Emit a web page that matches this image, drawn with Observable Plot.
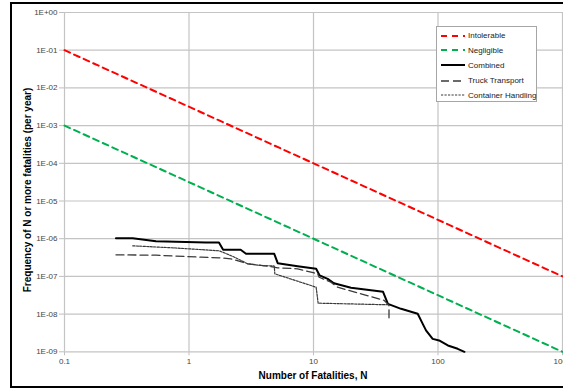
<!DOCTYPE html>
<html><head><meta charset="utf-8">
<script src="https://cdn.jsdelivr.net/npm/d3@7"></script>
<script src="https://cdn.jsdelivr.net/npm/@observablehq/plot@0.6"></script>
<style>
body{margin:0;background:#fff;}
#wrap{position:relative;width:563px;height:389px;overflow:hidden;background:#fff;font-family:"Liberation Sans Narrow","Liberation Sans",Arial,sans-serif;}
#chart{position:absolute;left:0;top:0;}
#border{position:absolute;left:10px;top:2px;width:620px;height:386px;box-sizing:border-box;border:2px solid #000;pointer-events:none;}
#ytitle{position:absolute;left:27px;top:190px;transform:translate(-50%,-50%) rotate(-90deg);white-space:nowrap;font-weight:bold;font-size:10px;color:#000;}
#xtitle{position:absolute;left:313px;top:375px;transform:translate(-50%,-50%);font-weight:bold;font-size:10px;white-space:nowrap;color:#000;}
#legend{position:absolute;left:436px;top:26px;width:101px;height:76px;box-sizing:border-box;border:1px solid #a6a6a6;background:#fff;font-size:8px;color:#222;}
.row{position:absolute;left:3px;height:10px;display:flex;align-items:center;white-space:nowrap;}
.row svg{margin-right:2px;}
#chart [aria-label^="y-axis"] line, #chart [aria-label^="y-axis"] path,
#chart [aria-label^="x-axis"] line, #chart [aria-label^="x-axis"] path{stroke:#bfbfbf;}
</style>
</head><body>
<div id="wrap">
  <div id="chart"></div>
  <div id="ytitle">Frequency of N or more fatalities (per year)</div>
  <div id="xtitle">Number of Fatalities, N</div>
  <div id="legend"></div>
  <div id="border"></div>
</div>
<script>
// Criteria lines (endpoints)
const intolerableN = [0.1, 1000];
const intolerableF = [1e-1, 1e-7];
const negligibleN = [0.1, 1000];
const negligibleF = [1e-3, 1e-9];

// Combined
const combinedN = [0.259, 0.353, 0.543, 1.37, 1.74, 1.88, 2.6, 2.87, 4.84, 5.16, 7.46, 10.5, 11.2, 13.0, 14.6, 20.0, 36.2, 39.6, 50.5, 68.7, 75.4, 80.1, 90.6, 102, 120, 144, 163];
const combinedF = [1.03e-6, 1.03e-6, 8.6e-7, 7.9e-7, 7.9e-7, 5.08e-7, 5.08e-7, 3.98e-7, 3.98e-7, 2.24e-7, 1.87e-7, 1.59e-7, 1.06e-7, 8.6e-8, 6.6e-8, 5.0e-8, 3.9e-8, 1.87e-8, 1.38e-8, 1.02e-8, 5.5e-9, 3.7e-9, 2.2e-9, 2.0e-9, 1.47e-9, 1.2e-9, 1.0e-9];

// Truck Transport
const truckN = [0.259, 0.543, 1.25, 1.81, 2.17, 2.96, 4.29, 5.16, 7.46, 10.8, 11.1, 13.8, 15.6, 24.1, 37.0, 39.4, 40.4, 40.4];
const truckF = [3.74e-7, 3.65e-7, 3.23e-7, 3.11e-7, 2.93e-7, 2.16e-7, 1.87e-7, 1.69e-7, 1.59e-7, 1.17e-7, 9.5e-8, 7.0e-8, 5.17e-8, 3.45e-8, 2.3e-8, 1.87e-8, 1.69e-8, 7.5e-9];

// Container Handling
const containerN = [0.353, 0.787, 1.75, 2.26, 2.96, 3.78, 4.84, 4.89, 10.5, 10.9, 39.4];
const containerF = [6.48e-7, 5.66e-7, 4.78e-7, 3.37e-7, 2.16e-7, 1.95e-7, 1.89e-7, 1.17e-7, 5.17e-8, 1.95e-8, 1.77e-8];

// Ticks
const xTicks = [0.1, 1, 10, 100, 1000];
const xTickLabels = ["0.1", "1", "10", "100", "1000"];
const yTicks = [1, 1e-1, 1e-2, 1e-3, 1e-4, 1e-5, 1e-6, 1e-7, 1e-8, 1e-9];
const yTickLabels = ["1E+00", "1E-01", "1E-02", "1E-03", "1E-04", "1E-05", "1E-06", "1E-07", "1E-08", "1E-09"];

const series = [
  {name: "Intolerable", N: intolerableN, F: intolerableF, stroke: "#ff0000", width: 2, dash: "6,4.5"},
  {name: "Negligible", N: negligibleN, F: negligibleF, stroke: "#00b050", width: 2, dash: "6,4.5"},
  {name: "Combined", N: combinedN, F: combinedF, stroke: "#000000", width: 2, dash: null},
  {name: "Truck Transport", N: truckN, F: truckF, stroke: "#3a3a3a", width: 1.3, dash: "8,4"},
  {name: "Container Handling", N: containerN, F: containerF, stroke: "#3a3a3a", width: 1.2, dash: "2.2,1.3"}
];

const toRows = s => s.N.map((n, i) => ({N: n, F: s.F[i]}));

const marks = [
  Plot.ruleY(yTicks, {stroke: "#c4c4c4", strokeWidth: 1.2}),
  Plot.ruleX(xTicks, {stroke: "#c4c4c4", strokeWidth: 1.2})
];
for (const s of series) {
  marks.push(Plot.line(toRows(s), {x: "N", y: "F", stroke: s.stroke, strokeWidth: s.width, strokeDasharray: s.dash || undefined}));
}

const chart = Plot.plot({
  width: 563,
  height: 389,
  marginLeft: 64,
  marginRight: 1,
  marginTop: 12,
  marginBottom: 37.7,
  style: {fontFamily: '"Liberation Sans Narrow","Liberation Sans",Arial,sans-serif', fontSize: "8px", color: "#444", background: "transparent", overflow: "visible"},
  x: {type: "log", domain: [0.1, 1000], ticks: xTicks, tickFormat: d => xTickLabels[xTicks.indexOf(d)] ?? "", tickSize: 4, tickPadding: 3, label: null},
  y: {type: "log", domain: [1e-9, 1], ticks: yTicks, tickFormat: d => yTickLabels[yTicks.findIndex(t => Math.abs(Math.log10(t) - Math.log10(d)) < 1e-6)] ?? "", tickSize: 5, tickPadding: 2, label: null},
  marks
});
document.getElementById("chart").appendChild(chart);

// Legend
const legend = document.getElementById("legend");
const rowTops = [3.5, 18, 33, 48.5, 63];
series.forEach((s, i) => {
  const row = document.createElement("div");
  row.className = "row";
  row.style.top = rowTops[i] + "px";
  const svg = d3.create("svg").attr("width", 26).attr("height", 10);
  svg.append("line").attr("x1", 1).attr("x2", 25).attr("y1", 5).attr("y2", 5)
    .attr("stroke", s.stroke).attr("stroke-width", s.width)
    .attr("stroke-dasharray", s.dash ? (i < 2 ? "6,5" : s.dash) : null);
  row.appendChild(svg.node());
  const lab = document.createElement("span");
  lab.textContent = s.name;
  row.appendChild(lab);
  legend.appendChild(row);
});
</script>
</body></html>
